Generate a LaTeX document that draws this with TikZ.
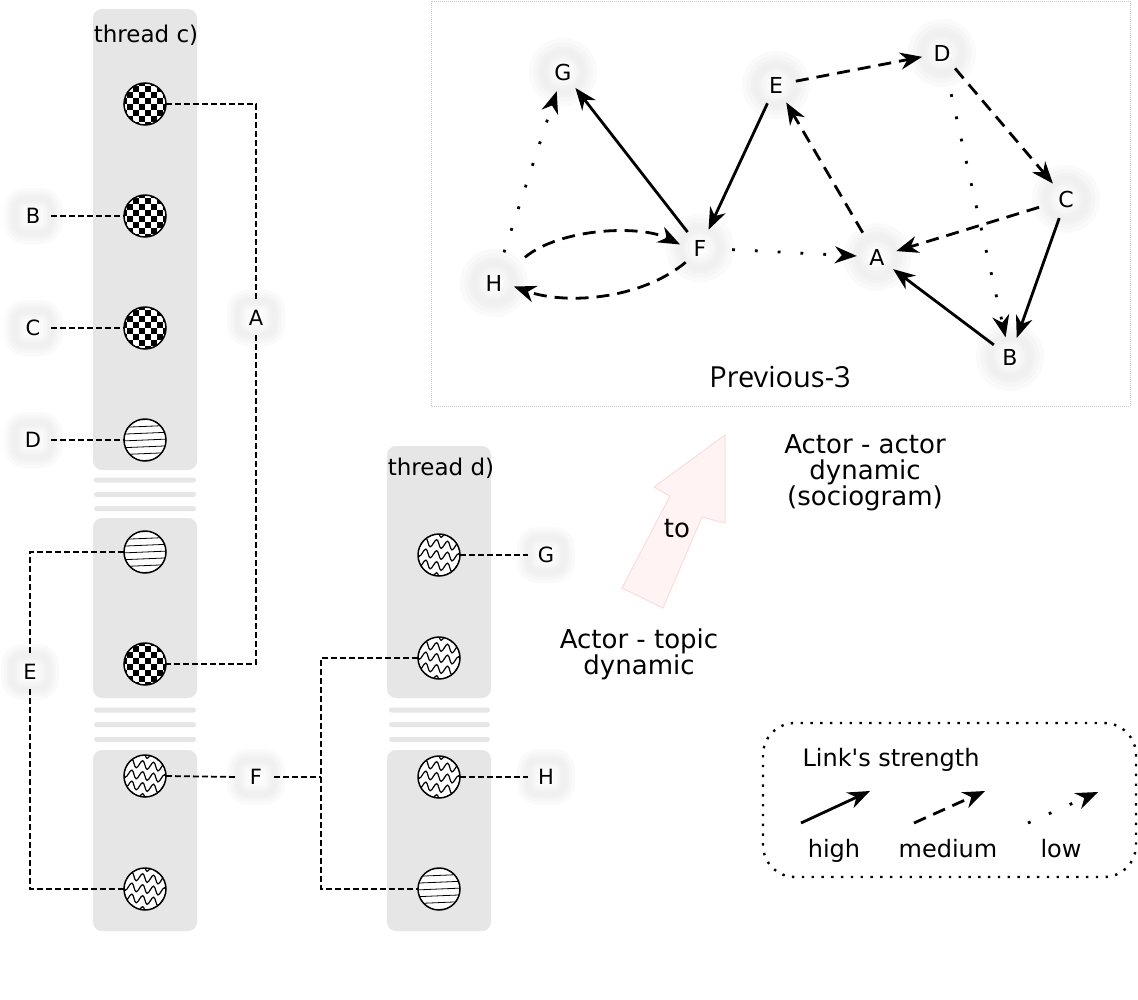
\documentclass[tikz,border=0pt]{standalone}
\usepackage{fontspec}
\setmainfont{DejaVu Sans}
\newfontfamily\osans{Open Sans}
\usetikzlibrary{arrows.meta,decorations.pathmorphing}
\definecolor{blockgray}{HTML}{E6E6E6}
\definecolor{pinkfill}{HTML}{FFF3F3}
\definecolor{pinkline}{HTML}{FCDCDC}
\definecolor{framegray}{HTML}{CCCCCC}
\begin{document}
\begin{tikzpicture}[x=1pt,y=-1pt,
  tline/.style={line width=1.8pt, dash pattern=on 6pt off 3pt},
  circ/.style={circle, draw, line width=1.5pt, fill=white, minimum size=42pt, inner sep=0pt, outer sep=0pt},
  chk/.style={circ, path picture={
     \foreach \i in {-4,...,3}{\foreach \j in {-4,...,3}{%
       \pgfmathtruncatemacro\chkpar{mod(\i+\j+8,2)}%
       \ifnum\chkpar=0 \fill[black] ([shift={(\i*6pt,\j*6pt)}]path picture bounding box.center) rectangle ++(6pt,6pt);\fi}}}},
  hln/.style={circ, path picture={
     \foreach \k in {-3,...,3}{\draw[line width=0.8pt] ([shift={(-24pt,\k*6.8pt-1pt)}]path picture bounding box.center) -- ++(48pt,2pt);}}},
  wav/.style={circ, path picture={
     \foreach \k in {-2,...,2}{\draw[line width=1.2pt, decorate, decoration={snake, amplitude=4pt, segment length=11pt}] ([shift={(-28pt,\k*11pt+4pt)}]path picture bounding box.center) -- ++(56pt,-8pt);}}},
  glowT/.style={preaction={draw=black!2, line width=22pt}, preaction={draw=black!3.5, line width=15pt}, preaction={draw=black!5, line width=9pt}, preaction={draw=black!6, line width=4pt}},
  glowS/.style={preaction={draw=black!2, line width=28pt}, preaction={draw=black!3.5, line width=19pt}, preaction={draw=black!5, line width=11pt}, preaction={draw=black!6, line width=5pt}},
  tlab/.style={rectangle, rounded corners=10pt, minimum width=36pt, minimum height=34pt, inner sep=0pt, glowT, font=\fontsize{21}{25}\selectfont},
  snode/.style={circle, minimum size=40pt, inner sep=0pt, glowS, font=\fontsize{22}{26}\selectfont},
  txt/.style={inner sep=0pt, anchor=base},
  f23/.style={font=\fontsize{23}{27}\selectfont},
  f24/.style={font=\fontsize{24}{28}\selectfont},
  f26/.style={font=\fontsize{26}{30}\selectfont},
  hi/.style={line width=2.8pt, -{Stealth[length=22pt,width=17pt,inset=7pt]}},
  me/.style={hi, dash pattern=on 13pt off 8pt},
  lo/.style={hi, dash pattern=on 2.8pt off 20pt},
  block/.style={fill=blockgray, rounded corners=9pt},
  bar/.style={fill=blockgray, rounded corners=2.5pt}
]
\useasboundingbox (0,0) rectangle (1138,999);
\fill[white] (0,0) rectangle (1138,999);

% ---------- thread blocks ----------
\fill[block] (93,9) rectangle (197,470);
\fill[block] (93,518) rectangle (197,698);
\fill[block] (93,750) rectangle (197,931);
\fill[block] (387,446) rectangle (491,698);
\fill[block] (387,750) rectangle (491,931);
\foreach \y in {480,494.5,508.5}{\fill[bar] (94,\y-2.5) rectangle (196,\y+2.5);}
\foreach \y in {710,724.5,739.5}{\fill[bar] (94,\y-2.5) rectangle (196,\y+2.5);
  \fill[bar] (389,\y-2.5) rectangle (490,\y+2.5);}

\node[txt,f23] (thc) at (146,42) {thread c)};
\node[txt,f23] (thd) at (441,475) {thread d)};

% ---------- thread circles ----------
\node[chk] (c1) at (145,104) {};
\node[chk] (c2) at (145,216) {};
\node[chk] (c3) at (145,328) {};
\node[hln] (c4) at (145,440) {};
\node[hln] (c5) at (145,552) {};
\node[chk] (c6) at (145,664) {};
\node[wav] (c7) at (145,776) {};
\node[wav] (c8) at (145,889) {};
\node[wav] (d1) at (439,555) {};
\node[wav] (d2) at (439,658) {};
\node[wav] (d3) at (439,777) {};
\node[hln] (d4) at (439,889) {};

% ---------- thread labels ----------
\node[tlab] (lB) at (33,216) {B};
\node[tlab] (lC) at (33,328) {C};
\node[tlab] (lD) at (33,440) {D};
\node[tlab] (lA) at (256,318) {A};
\node[tlab] (lE) at (30,672) {E};
\node[tlab] (lF) at (256,777) {F};
\node[tlab] (lG) at (546,555) {G};
\node[tlab] (lH) at (546,777) {H};
\coordinate (Fj) at (321,777);

\draw[tline] (lB.east) -- (c2.west);
\draw[tline] (lC.east) -- (c3.west);
\draw[tline] (lD.east) -- (c4.west);
\draw[tline] (c1.east) -| (lA.north);
\draw[tline] (lA.south) |- (c6.east);
\draw[tline] (c5.west) -| (lE.north);
\draw[tline] (lE.south) |- (c8.west);
\draw[tline] (c7.east) -- (lF.west);
\draw[tline] (lF.east) -- (Fj);
\draw[tline] (d2.west) -| (Fj) |- (d4.west);
\draw[tline] (d1.east) -- (lG.west);
\draw[tline] (d3.east) -- (lH.west);

% ---------- sociogram ----------
\draw[framegray, line width=0.8pt, dash pattern=on 1pt off 1pt] (431,1) rectangle (1130,406);
\node[snode] (G) at (563,72) {G};
\node[snode] (E) at (776,85) {E};
\node[snode] (D) at (942,53) {D};
\node[snode] (C) at (1066,199) {C};
\node[snode] (A) at (877,257) {A};
\node[snode] (B) at (1010,357) {B};
\node[snode] (F) at (700,248) {F};
\node[snode] (H) at (494,283) {H};
\node[txt, font=\osans\fontsize{29}{34}\selectfont] (prev) at (780,387) {Previous-3};

\draw[hi] (F) -- (G);
\draw[hi] (E) -- (F);
\draw[lo, shorten <=12pt] (H) -- (G);
\draw[lo, shorten <=12pt] (F) -- (A);
\draw[me, shorten <=8pt] (A) -- (E);
\draw[me] (E) -- (D);
\draw[me] (D) -- (C);
\draw[lo, shorten <=22pt] (D) -- (B);
\draw[me, shorten <=8pt] (C) -- (A);
\draw[hi] (C) -- (B);
\draw[hi] (B) -- (A);
\draw[me, shorten <=20pt] (H.40) .. controls +(51,-42) and +(-40,-20) .. (F.170);
\draw[me] (F.225) .. controls (640,300) and (565,305) .. (H.-10);

% ---------- transition arrow and captions ----------
\filldraw[fill=pinkfill, draw=pinkline, line width=1pt] (725,435) -- (725,523) -- (702,517) -- (663,608) -- (622,588) -- (670,496) -- (654,487) -- cycle;
\node[txt,f26] (to) at (677,537) {to};
\node[txt,f26] (aa1) at (865,453) {Actor - actor};
\node[txt,f26] (aa2) at (865,479) {dynamic};
\node[txt,f26] (aa3) at (865,505) {(sociogram)};
\node[txt,f26] (at1) at (639,648) {Actor - topic};
\node[txt,f26] (at2) at (639,674) {dynamic};

% ---------- legend ----------
\draw[line width=2.4pt, dash pattern=on 2.4pt off 7.4pt, rounded corners=32pt] (763,723) rectangle (1136,877);
\node[txt,f24] (ls) at (891,766) {Link\textquotesingle s strength};
\coordinate (hi1) at (801,823); \coordinate (hi2) at (870,791);
\coordinate (me1) at (914,823); \coordinate (me2) at (985,791);
\coordinate (lo1) at (1028,823); \coordinate (lo2) at (1098,792);
\draw[hi] (hi1) -- (hi2);
\draw[me] (me1) -- (me2);
\draw[lo] (lo1) -- (lo2);
\node[txt,f24] (lhigh) at (834,857) {high};
\node[txt,f24] (lmed) at (948,857) {medium};
\node[txt,f24] (llow) at (1061,857) {low};
\end{tikzpicture}
\end{document}
